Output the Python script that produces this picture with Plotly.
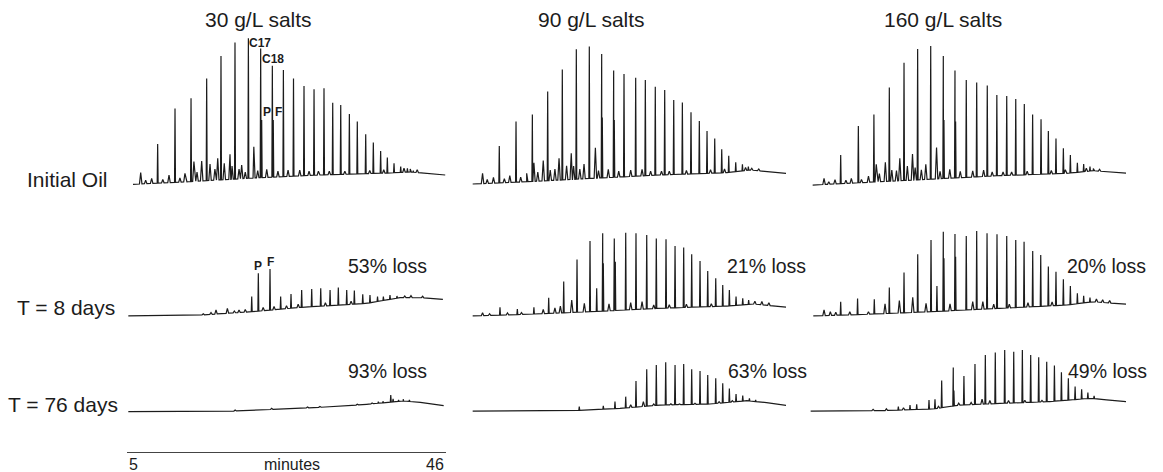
import numpy as np
import plotly.graph_objects as go

W, H = 1163, 472

# Retention-time window of every chromatogram (minutes)
T_MIN, T_MAX = 5, 46
TIME_TICKS = [5, 46]

SALINITY = ["30 g/L salts", "90 g/L salts", "160 g/L salts"]
SAMPLING = ["Initial Oil", "T = 8 days", "T = 76 days"]
LOSS_8D = ["53% loss", "21% loss", "20% loss"]
LOSS_76D = ["93% loss", "63% loss", "49% loss"]

# ---- chromatogram data: (retention time [min], detector signal) ----
# *_BASE  : unresolved baseline / hump
# *_PEAKS : n-alkanes plus pristane (P) and phytane (F)
# *_MINOR : small resolved components

# 30 g/L, initial oil
S30_D0_BASE = [(5.77, 1.8), (12.7, 3.5), (21.2, 6.0), (29.8, 8.0), (38.4, 9.3), (41.4, 10.0), (45.9, 8.0)]
S30_D0_PEAKS = [(8.94, 28.7), (11.17, 52.4), (13.23, 59.1), (15.24, 72.4), (17.08, 87.3), (18.88, 96.4),
                (20.6, 99.1), (22.18, 92.4), (22.31, 44.7), (23.68, 80.9), (23.8, 44.7), (25.1, 78.0),
                (26.4, 72.4), (27.75, 67.3), (29.04, 65.1), (30.32, 65.8), (31.44, 56.2), (32.47, 54.7),
                (33.58, 48.7), (34.6, 43.6), (35.68, 35.1), (36.66, 29.6), (37.6, 24.0), (38.46, 19.6),
                (39.32, 15.8), (40.18, 13.6), (41.04, 12.4), (41.8, 10.9)]
S30_D0_MINOR = [(6.76, 9.6), (7.4, 4.5), (8.17, 5.8), (9.6, 5.0), (10.4, 8.0), (11.8, 6.0), (12.45, 9.1),
                (13.6, 16.9), (14.0, 10.0), (14.6, 17.3), (15.67, 15.3), (16.3, 12.0), (16.66, 19.1),
                (17.5, 15.8), (18.24, 21.8), (18.5, 14.0), (19.4, 12.0), (19.74, 14.7), (20.2, 10.0),
                (21.3, 26.9), (21.8, 11.0), (22.96, 11.8), (24.4, 10.5), (25.7, 11.3), (27.2, 11.3),
                (28.4, 10.5), (29.6, 10.5), (31.0, 10.5), (33.0, 10.5), (36.2, 11.0), (38.0, 11.5),
                (40.6, 12.5), (41.4, 12.0), (42.3, 11.5)]

# 90 g/L, initial oil
S90_D0_BASE = [(5.73, 2.0), (12.67, 3.5), (21.2, 5.8), (29.8, 8.0), (38.4, 9.6), (41.4, 11.3), (46.1, 9.1)]
S90_D0_PEAKS = [(9.15, 27.3), (11.3, 43.6), (13.4, 48.4), (15.37, 63.6), (17.25, 78.4), (19.05, 91.8),
                (20.72, 93.6), (22.31, 88.7), (22.39, 46.4), (23.85, 77.6), (23.93, 44.7), (25.18, 75.3),
                (26.68, 72.9), (27.92, 71.3), (29.2, 66.9), (30.41, 64.7), (31.57, 58.0), (32.68, 56.4),
                (33.79, 49.8), (34.86, 44.0), (35.85, 37.3), (36.84, 32.4), (37.74, 25.1), (38.64, 20.9),
                (39.54, 16.4), (40.4, 15.1), (41.16, 13.6)]
S90_D0_MINOR = [(7.0, 9.1), (7.6, 5.0), (8.4, 6.4), (9.8, 5.5), (10.5, 7.6), (11.9, 6.5), (12.67, 9.1),
                (13.6, 16.2), (14.1, 10.0), (14.8, 17.6), (15.7, 11.3), (16.3, 12.0), (16.83, 19.1),
                (17.8, 14.2), (18.4, 22.4), (18.7, 14.0), (19.5, 12.0), (20.04, 15.3), (21.5, 26.2),
                (21.9, 11.0), (23.16, 11.8), (24.5, 10.5), (26.04, 11.3), (27.5, 11.8), (28.6, 10.5),
                (30.0, 10.5), (31.0, 10.5), (33.2, 11.0), (36.3, 11.5), (38.1, 12.0), (40.8, 13.0),
                (41.6, 12.5), (42.5, 12.0)]

# 160 g/L, initial oil
S160_D0_BASE = [(5.73, 1.3), (12.67, 3.1), (21.2, 5.3), (29.8, 7.6), (38.4, 9.1), (41.8, 10.9), (46.3, 9.1)]
S160_D0_PEAKS = [(9.33, 21.3), (11.6, 40.7), (13.6, 48.4), (15.58, 66.4), (17.47, 82.9), (19.22, 92.0),
                 (20.9, 94.0), (22.52, 87.3), (22.6, 44.7), (24.02, 77.6), (24.1, 43.6), (25.47, 71.3),
                 (26.81, 69.6), (28.17, 67.6), (29.4, 61.3), (30.67, 60.7), (31.83, 58.7), (32.93, 55.3),
                 (34.0, 48.4), (35.08, 45.1), (36.02, 37.3), (37.0, 32.4), (37.95, 25.8), (38.85, 21.3),
                 (39.75, 16.2), (40.56, 15.3), (41.37, 13.6)]
S160_D0_MINOR = [(7.19, 5.8), (7.8, 3.5), (8.6, 4.9), (10.0, 4.5), (10.7, 5.8), (12.0, 5.0), (12.9, 7.3),
                 (13.9, 15.1), (14.3, 9.0), (15.07, 16.4), (15.9, 11.3), (16.5, 11.0), (16.93, 19.1),
                 (17.9, 14.0), (18.56, 22.0), (18.9, 13.0), (19.7, 11.5), (20.27, 15.1), (21.65, 26.4),
                 (22.1, 10.5), (23.35, 11.8), (24.7, 10.5), (26.3, 10.7), (27.7, 11.3), (28.8, 10.0),
                 (30.2, 10.0), (31.3, 10.0), (33.3, 10.5), (36.4, 11.0), (38.2, 11.5), (40.9, 12.5),
                 (41.8, 12.3), (42.6, 11.8)]

# 30 g/L, day 8
S30_D8_BASE = [(5.17, 0.7), (14.4, 1.3), (21.2, 3.6), (27.2, 6.4), (35.8, 9.1), (40.1, 12.9), (42.7, 12.9), (45.6, 11.8)]
S30_D8_PEAKS = [(21.03, 13.6), (21.88, 29.1), (23.38, 32.0), (24.75, 13.6), (26.08, 15.3), (27.45, 18.0),
                (28.74, 18.7), (29.9, 19.1), (31.1, 18.0), (32.16, 19.6), (33.24, 18.0), (34.22, 17.6),
                (35.3, 15.1), (36.23, 14.7), (37.2, 13.6), (37.95, 13.6), (38.8, 14.7), (39.7, 14.0)]
S30_D8_MINOR = [(14.8, 2.2), (15.8, 3.0), (16.44, 4.7), (17.9, 5.8), (18.8, 4.0), (19.4, 4.7), (20.2, 5.0),
                (22.5, 6.4), (23.9, 7.0), (25.5, 7.5), (27.0, 8.5), (30.5, 9.5), (33.8, 10.5), (40.7, 14.0),
                (41.5, 14.2), (43.0, 13.8)]

# 90 g/L, day 8
S90_D8_BASE = [(5.73, 0.7), (12.67, 1.8), (21.2, 3.6), (29.8, 5.8), (38.4, 7.3), (41.8, 8.7), (46.3, 6.4)]
S90_D8_PEAKS = [(9.24, 6.4), (11.47, 5.3), (13.6, 6.4), (15.5, 12.9), (17.43, 23.6), (19.14, 38.4),
                (20.81, 50.7), (21.67, 19.1), (22.44, 55.8), (22.52, 35.8), (23.93, 52.4), (24.06, 36.9),
                (25.4, 56.2), (26.72, 55.8), (28.1, 54.7), (29.33, 52.4), (30.58, 51.8), (31.74, 47.3),
                (32.85, 46.4), (33.88, 41.8), (34.95, 37.3), (35.94, 30.7), (36.97, 25.8), (37.87, 21.3),
                (38.72, 18.0), (39.58, 13.6), (40.44, 12.4), (41.2, 11.3)]
S90_D8_MINOR = [(7.0, 2.9), (7.9, 2.2), (10.2, 2.8), (12.0, 3.0), (14.8, 5.0), (16.3, 6.0), (17.0, 7.3),
                (18.46, 11.3), (20.08, 9.1), (23.25, 8.7), (26.04, 9.6), (27.5, 10.2), (29.0, 8.0),
                (31.0, 8.2), (33.2, 8.5), (36.4, 8.8), (42.0, 10.5), (42.9, 10.3), (43.8, 9.5)]

# 160 g/L, day 8
S160_D8_BASE = [(5.81, 0.7), (12.67, 1.8), (21.2, 3.6), (29.8, 5.8), (38.4, 8.0), (41.8, 10.2), (46.3, 8.4)]
S160_D8_PEAKS = [(9.33, 10.2), (11.5, 12.4), (13.65, 11.8), (15.58, 19.6), (17.47, 29.6), (19.23, 41.8),
                 (20.94, 51.3), (21.7, 20.7), (22.52, 56.9), (22.6, 39.1), (24.02, 55.3), (24.1, 40.2),
                 (25.47, 54.0), (26.81, 57.3), (28.14, 55.8), (29.42, 55.1), (30.67, 54.0), (31.83, 51.3),
                 (32.9, 50.2), (34.01, 44.0), (35.04, 41.3), (36.02, 33.6), (37.0, 30.2), (37.95, 25.1),
                 (38.85, 20.7), (39.75, 15.8), (40.56, 14.2), (41.37, 12.9)]
S160_D8_MINOR = [(7.19, 4.7), (8.0, 3.5), (8.7, 3.2), (10.5, 3.5), (12.9, 3.5), (15.03, 8.7), (16.87, 10.9),
                 (18.59, 13.1), (20.3, 9.1), (23.38, 8.7), (26.3, 10.2), (27.6, 10.2), (29.0, 8.5),
                 (31.0, 8.5), (33.4, 9.5), (36.5, 10.0), (42.2, 12.0), (43.0, 11.5), (43.9, 11.0)]

# 30 g/L, day 76
S30_D76_BASE = [(5.17, 0.9), (18.7, 1.3), (25.1, 2.7), (31.5, 4.2), (35.8, 5.8), (40.5, 8.0), (42.7, 7.1), (45.7, 4.9)]
S30_D76_PEAKS = [(37.3, 7.6), (37.9, 7.8), (38.9, 12.0), (39.2, 9.5), (39.9, 8.7), (40.5, 9.2), (41.3, 8.8)]
S30_D76_MINOR = [(18.9, 2.0), (23.6, 3.1), (28.2, 4.0), (29.8, 4.4), (34.6, 5.9), (36.5, 6.7)]

# 90 g/L, day 76
S90_D76_BASE = [(5.73, 1.3), (18.66, 1.6), (24.67, 3.1), (29.8, 5.3), (36.2, 6.0), (40.95, 8.2), (43.5, 6.9), (46.3, 4.9)]
S90_D76_PEAKS = [(19.43, 4.2), (22.52, 4.7), (24.02, 7.6), (25.4, 10.9), (26.72, 21.3), (28.1, 29.1),
                 (29.33, 32.0), (30.54, 33.8), (31.74, 32.0), (32.85, 32.7), (33.88, 29.1), (34.95, 28.0),
                 (35.94, 25.3), (36.97, 23.1), (37.87, 19.8), (38.72, 16.4), (39.58, 12.7), (40.44, 11.6),
                 (41.3, 9.8), (42.1, 8.8)]
S90_D76_MINOR = [(26.04, 5.5), (27.67, 7.6), (29.0, 6.0), (31.2, 6.2), (32.3, 6.0), (34.3, 6.5), (37.4, 7.6), (39.1, 8.3)]

# 160 g/L, day 76
S160_D76_BASE = [(5.47, 1.3), (14.8, 1.6), (21.2, 2.7), (24.67, 5.3), (29.8, 6.4), (36.2, 7.6), (41.4, 9.8), (43.5, 8.8), (46.1, 7.6)]
S160_D76_PEAKS = [(16.74, 4.2), (18.24, 5.3), (19.1, 5.8), (20.68, 8.7), (21.45, 9.1), (22.31, 21.6),
                  (23.8, 30.4), (23.88, 15.0), (25.17, 24.7), (26.59, 32.7), (27.92, 38.7), (29.2, 40.4),
                  (30.41, 42.0), (31.57, 40.9), (32.68, 42.0), (33.75, 38.7), (34.78, 37.1), (35.81, 34.2),
                  (36.8, 31.6), (37.7, 27.1), (38.59, 23.1), (39.46, 17.6), (40.3, 15.8), (41.1, 13.6),
                  (41.9, 11.5)]
S160_D76_MINOR = [(13.5, 2.4), (15.2, 2.8), (17.4, 3.5), (21.9, 4.5), (24.5, 6.5), (26.1, 7.0), (27.5, 9.2),
                  (28.5, 8.3), (30.9, 8.3), (33.0, 8.5), (35.2, 8.4)]

PANELS = [
    [(S30_D0_BASE, S30_D0_PEAKS, S30_D0_MINOR), (S90_D0_BASE, S90_D0_PEAKS, S90_D0_MINOR), (S160_D0_BASE, S160_D0_PEAKS, S160_D0_MINOR)],
    [(S30_D8_BASE, S30_D8_PEAKS, S30_D8_MINOR), (S90_D8_BASE, S90_D8_PEAKS, S90_D8_MINOR), (S160_D8_BASE, S160_D8_PEAKS, S160_D8_MINOR)],
    [(S30_D76_BASE, S30_D76_PEAKS, S30_D76_MINOR), (S90_D76_BASE, S90_D76_PEAKS, S90_D76_MINOR), (S160_D76_BASE, S160_D76_PEAKS, S160_D76_MINOR)],
]

# ---- layout geometry (pixels) ----
COL_PX = [(127, 446), (467, 786), (807, 1126)]   # x-pixel span of T_MIN..T_MAX per column
ROW_ZERO_PX = [187, 317, 413]                     # pixel row of zero signal
ROW_RANGE = [(-3, 104), (-3, 62), (-3, 45)]       # signal range per row
PX_PER_UNIT = 1.5
INK = "#1c1c1c"
FONT = "Liberation Sans, Arial, sans-serif"


def px_x(x):
    return x / W


def px_y(y):
    return 1 - y / H


def trace_xy(base, peaks, minor, w_peak=0.06, w_minor=0.16):
    """Line coordinates: baseline knots plus a narrow triangle for each peak."""
    bt = np.array([p[0] for p in base])
    by = np.array([p[1] for p in base])
    pts = list(base)
    for group, w in ((peaks, w_peak), (minor, w_minor)):
        for t, h in group:
            pts.append((t - w, float(np.interp(t - w, bt, by))))
            pts.append((t, h))
            pts.append((t + w, float(np.interp(t + w, bt, by))))
    pts.sort(key=lambda p: p[0])
    return [p[0] for p in pts], [p[1] for p in pts]


fig = go.Figure()
layout_axes = {}
k = 0
for r in range(3):
    z = ROW_ZERO_PX[r]
    lo, hi = ROW_RANGE[r]
    y_dom = [px_y(z - lo * PX_PER_UNIT), px_y(z - hi * PX_PER_UNIT)]
    for c in range(3):
        k += 1
        sfx = "" if k == 1 else str(k)
        base, peaks, minor = PANELS[r][c]
        xs, ys = trace_xy(base, peaks, minor)
        fig.add_trace(go.Scatter(x=xs, y=ys, mode="lines",
                                 line=dict(color=INK, width=1.2),
                                 xaxis="x" + sfx, yaxis="y" + sfx,
                                 hoverinfo="skip", showlegend=False))
        layout_axes["xaxis" + sfx] = dict(domain=[px_x(COL_PX[c][0]), px_x(COL_PX[c][1])],
                                          range=[T_MIN, T_MAX], visible=False, anchor="y" + sfx)
        layout_axes["yaxis" + sfx] = dict(domain=y_dom, range=[lo, hi], visible=False, anchor="x" + sfx)

# time scale bar under the first column
layout_axes["xaxis10"] = dict(domain=[px_x(COL_PX[0][0]), px_x(COL_PX[0][1])], range=[T_MIN, T_MAX],
                              anchor="y10", showline=True, linecolor="#444", linewidth=1,
                              ticks="inside", ticklen=5, tickcolor="#444", tickwidth=1,
                              tickvals=TIME_TICKS, showticklabels=False, showgrid=False, zeroline=False)
layout_axes["yaxis10"] = dict(domain=[px_y(452), px_y(440)], range=[0, 1], visible=False, anchor="x10")
fig.add_trace(go.Scatter(x=TIME_TICKS, y=[0, 0], mode="none", xaxis="x10", yaxis="y10",
                         hoverinfo="skip", showlegend=False))

ann = []


def text(s, x, y, size, xanchor="center", bold=False, xref="paper"):
    ann.append(dict(text=f"<b>{s}</b>" if bold else s, x=x, y=y, xref=xref, yref="paper",
                    xanchor=xanchor, yanchor="middle", showarrow=False,
                    font=dict(family=FONT, size=size, color=INK)))


# column titles
for s, cx in zip(SALINITY, [258, 591.5, 942.5]):
    text(s, px_x(cx), px_y(19), 21)
# row labels
for s, cx, cy in zip(SAMPLING, [67.5, 66, 63], [179.5, 307, 404]):
    text(s, px_x(cx), px_y(cy), 21)
# losses
for s, cx in zip(LOSS_8D, [387.5, 766, 1106]):
    text(s, px_x(cx), px_y(266), 19.5)
for s, cx in zip(LOSS_76D, [387.5, 767.5, 1107]):
    text(s, px_x(cx), px_y(371), 19.5)
# peak identifications
for s, cx, cy in [("C17", 259.7, 42.5), ("C18", 273, 59), ("P", 266.5, 112.5), ("F", 278.7, 112.5),
                  ("P", 258.3, 266), ("F", 270.8, 261.7)]:
    text(s, px_x(cx), px_y(cy), 12, bold=True)
# scale bar labels
text(str(TIME_TICKS[0]), TIME_TICKS[0], px_y(464), 16, xanchor="left", xref="x10")
text(str(TIME_TICKS[1]), TIME_TICKS[1], px_y(464), 16, xanchor="right", xref="x10")
text("minutes", px_x(292), px_y(464), 16)

fig.update_layout(width=W, height=H, margin=dict(l=0, r=0, t=0, b=0),
                  paper_bgcolor="white", plot_bgcolor="rgba(0,0,0,0)",
                  annotations=ann, **layout_axes)

fig.write_html("out.html")
